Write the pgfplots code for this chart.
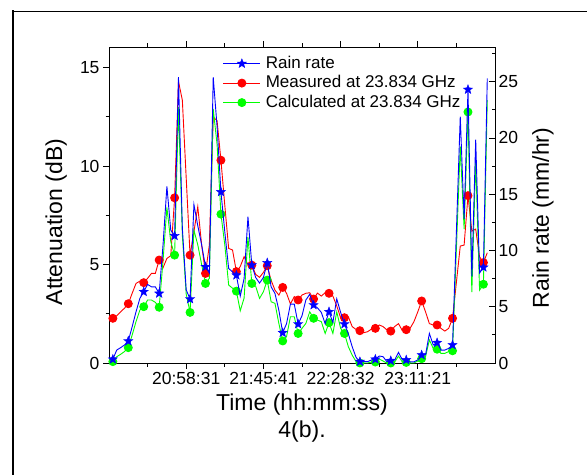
\documentclass[border=0pt]{standalone}
\usepackage{fontspec}
\setmainfont{Liberation Sans}
\usepackage{pgfplots}
\pgfplotsset{compat=1.18}
\usepackage{pgfplotstable}

\newcommand\tickfont{\fontsize{17.5bp}{21bp}\selectfont}
\newcommand\legfont{\fontsize{17bp}{20bp}\selectfont}
\newcommand\labfont{\fontsize{23bp}{27bp}\selectfont}

\pgfdeclareplotmark{fstar}{%
  \pgfpathmoveto{\pgfqpointpolar{90}{\pgfplotmarksize}}%
  \pgfpathlineto{\pgfqpointpolar{126}{0.42\pgfplotmarksize}}%
  \pgfpathlineto{\pgfqpointpolar{162}{\pgfplotmarksize}}%
  \pgfpathlineto{\pgfqpointpolar{198}{0.42\pgfplotmarksize}}%
  \pgfpathlineto{\pgfqpointpolar{234}{\pgfplotmarksize}}%
  \pgfpathlineto{\pgfqpointpolar{270}{0.42\pgfplotmarksize}}%
  \pgfpathlineto{\pgfqpointpolar{306}{\pgfplotmarksize}}%
  \pgfpathlineto{\pgfqpointpolar{342}{0.42\pgfplotmarksize}}%
  \pgfpathlineto{\pgfqpointpolar{18}{\pgfplotmarksize}}%
  \pgfpathlineto{\pgfqpointpolar{54}{0.42\pgfplotmarksize}}%
  \pgfpathclose\pgfusepathqfillstroke}

% x: sample position, meas/calc: attenuation (dB), rain: rain rate (mm/hr)
\pgfplotstableread{
x    meas   calc   rain
0.1  2.27   0.07   0.33
0.2  2.40   0.32   1.15
0.3  2.60   0.44   1.36
0.4  2.78   0.58   1.60
0.5  3.01   0.78   1.95
0.6  3.54   1.42   3.22
0.7  4.04   2.10   4.55
0.8  4.16   2.69   5.74
0.9  4.08   2.86   6.33
1.0  4.30   3.20   6.98
1.1  4.55   3.20   6.77
1.2  4.55   3.08   6.77
1.3  5.23   2.83   6.18
1.4  4.84   5.20   10.5
1.5  5.31   7.90   15.7
1.6  5.45   6.16   11.8
1.7  8.39   5.48   11.3
1.8  14.3   13.0   25.4
1.9  13.35  6.50   12.0
2.0  9.40   3.50   6.50
2.1  5.48   2.57   5.68
2.2  6.67   6.75   14.08
2.3  7.94   6.00   12.2
2.4  6.00   5.00   10.5
2.5  4.55   4.04   8.55
2.6  6.00   4.30   8.00
2.7  12.5   12.9   25.4
2.8  12.3   11.1   21.0
2.9  10.3   7.56   15.2
3.0  8.00   6.00   11.65
3.1  5.82   3.96   8.40
3.2  5.74   3.80   8.10
3.3  4.64   3.65   7.80
3.4  4.90   2.65   5.94
3.5  5.40   3.30   7.50
3.6  5.00   6.40   13.0
3.7  4.97   4.04   8.70
3.8  4.50   3.90   7.60
3.9  4.35   3.28   7.10
4.0  4.60   3.62   7.60
4.1  4.94   4.21   8.90
4.2  4.20   3.11   6.77
4.3  3.70   3.03   6.18
4.4  3.45   2.01   4.70
4.5  3.84   1.12   2.69
4.6  3.54   1.34   3.50
4.7  3.00   2.35   5.23
4.8  3.37   2.35   5.23
4.9  3.20   1.50   3.46
5.0  3.45   1.76   4.20
5.1  3.54   2.01   5.60
5.2  3.57   2.60   6.10
5.3  3.25   2.27   5.15
5.4  3.55   2.18   4.90
5.5  3.40   2.10   4.50
5.6  3.57   1.50   3.50
5.7  3.54   2.05   4.55
5.8  3.40   1.50   3.60
5.9  2.90   2.60   5.70
6.0  2.30   1.76   4.50
6.1  2.30   1.50   3.46
6.2  2.35   0.83   2.60
6.3  1.85   0.40   1.45
6.4  1.70   0.07   0.50
6.5  1.64   0.00   0.12
6.6  1.54   0.00   0.12
6.7  1.59   0.00   0.12
6.8  1.72   0.05   0.27
6.9  1.76   0.05   0.33
7.0  1.93   0.20   0.62
7.1  1.85   0.10   0.56
7.2  1.68   0.00   0.12
7.3  1.62   0.00   0.20
7.4  1.85   0.05   0.27
7.5  2.00   0.35   0.95
7.6  1.64   0.05   0.27
7.7  1.69   0.03   0.27
7.8  1.76   0.00   0.10
7.9  2.10   0.00   0.10
8.0  2.60   0.10   0.27
8.1  3.15   0.22   0.71
8.2  2.60   0.32   0.71
8.3  2.00   1.17   2.63
8.4  1.93   0.74   1.60
8.5  1.93   0.70   1.80
8.6  1.76   0.49   1.15
8.7  1.62   0.49   1.15
8.8  1.76   0.58   1.30
8.9  2.27   0.62   1.60
9.0  4.10   5.80   11.7
9.1  5.94   11.0   21.9
9.2  5.99   6.80   12.8
9.3  8.50   12.75  24.3
9.4  6.70   3.60   7.70
9.5  6.80   10.3   19.85
9.6  5.40   3.70   8.00
9.7  5.10   4.00   8.50
9.8  5.60   13.35  25.3
}\data

\begin{document}
\begin{tikzpicture}
\useasboundingbox (0,0) rectangle (587bp,475bp);
\fill[white] (0,0) rectangle (587bp,475bp);
% outer frame
\draw[line width=2bp] (13bp,0) -- (13bp,464.5bp);
\draw[line width=1.5bp] (12bp,463.5bp) -- (587bp,463.5bp);

\pgfplotsset{
  legend image code/.code={%
    \draw[mark repeat=2,mark phase=2] plot coordinates {(0bp,0bp) (18.5bp,0bp) (37bp,0bp)};}
}

\begin{axis}[
  at={(109bp,112bp)}, anchor=south west,
  scale only axis, width=386bp, height=316bp,
  xmin=0, xmax=10, ymin=0, ymax=16.05,
  xtick={2,4,6,8},
  xticklabels={20:58:31,21:45:41,22:28:32,23:11:21},
  minor xtick={1,3,5,7,9},
  ytick={0,5,10,15}, minor ytick={2.5,7.5,12.5},
  xtick pos=both, ytick pos=left, tick align=outside,
  major tick length=6bp, minor tick length=3.5bp,
  every tick/.style={black, line width=0.8bp},
  axis line style={line width=0.8bp},
  ticklabel style={font=\tickfont},
  /pgf/number format/assume math mode=true,
  xlabel={Time (hh:mm:ss)}, ylabel={Attenuation (dB)},
  label style={font=\labfont},
  xlabel style={at={(axis description cs:0.5,-0.13)}, anchor=center},
  ylabel style={at={(axis description cs:-0.137,0.446)}, anchor=center},
  clip=false,
]
\addplot[red, line width=0.9bp, mark=*, mark size=4bp, mark repeat=4, mark phase=1,
  mark options={fill=red, draw=red}] table[x=x, y=meas] {\data};
\addplot[green, line width=0.9bp, mark=*, mark size=4bp, mark repeat=4, mark phase=1,
  mark options={fill=green, draw=green}] table[x=x, y=calc] {\data};
\node[font=\labfont, anchor=center] at (rel axis cs:0.5,-0.218) {4(b).};
\end{axis}

\begin{axis}[
  at={(109bp,112bp)}, anchor=south west,
  scale only axis, width=386bp, height=316bp,
  xmin=0, xmax=10, ymin=0, ymax=28.08,
  axis x line=none, axis y line*=right,
  ytick={0,5,10,15,20,25}, minor ytick={2.5,7.5,12.5,17.5,22.5,27.5},
  tick align=inside,
  major tick length=6bp, minor tick length=3.5bp,
  every tick/.style={black, line width=0.8bp},
  axis line style={line width=0.8bp},
  ticklabel style={font=\tickfont},
  /pgf/number format/assume math mode=true,
  ylabel={Rain rate (mm/hr)},
  label style={font=\labfont},
  ylabel style={at={(axis description cs:1.124,0.459)}, anchor=center},
  legend style={at={(0.2946,0.975)}, anchor=north west, draw=none, fill=none,
    inner sep=0pt, row sep=2.5bp, font=\legfont,
    nodes={inner sep=0pt, text height=13bp, text depth=4bp},
    /tikz/every odd column/.style={column sep=5bp}},
  legend cell align=left,
]
\addplot[blue, line width=0.9bp, mark=fstar, mark size=4.8bp, mark repeat=4, mark phase=1,
  mark options={fill=blue, draw=blue, line width=0.4bp}] table[x=x, y=rain] {\data};
\addlegendentry{Rain rate}
\addlegendimage{red, line width=0.9bp, mark=*, mark size=4bp, mark options={fill=red, draw=red}}
\addlegendentry{Measured at 23.834 GHz}
\addlegendimage{green, line width=0.9bp, mark=*, mark size=4bp, mark options={fill=green, draw=green}}
\addlegendentry{Calculated at 23.834 GHz}
\end{axis}
\end{tikzpicture}
\end{document}
